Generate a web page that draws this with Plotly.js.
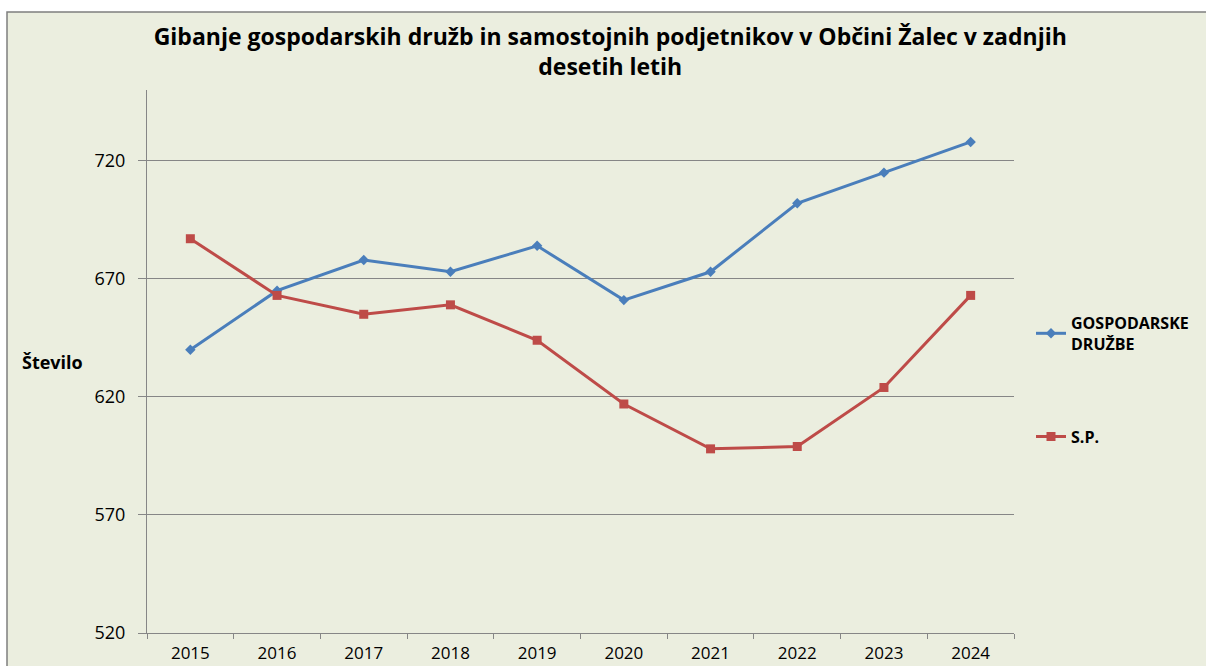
<!DOCTYPE html>
<html>
<head>
<meta charset="utf-8">
<script src="https://cdn.plot.ly/plotly-3.0.1.min.js"></script>
<style>html,body{margin:0;padding:0;background:#fff;}#chart{width:1206px;height:666px;}</style>
</head>
<body>
<div id="chart"></div>
<script>
const years = ['2015','2016','2017','2018','2019','2020','2021','2022','2023','2024'];
const druzbe = [640, 665, 678, 673, 684, 661, 673, 702, 715, 728];
const sp = [687, 663, 655, 659, 644, 617, 598, 599, 624, 663];
const yTicks = [520, 570, 620, 670, 720];

const fontFam = '"Open Sans", "Liberation Sans", sans-serif';

const traces = [
  {
    x: years, y: druzbe, type: 'scatter', mode: 'lines+markers',
    name: '<b>GOSPODARSKE<br>DRUŽBE</b>', legendgroup: 'a',
    line: {color: '#4A7EBB', width: 3},
    marker: {symbol: 'diamond', size: 8, color: '#4A7EBB'}
  },
  {
    x: years, y: sp, type: 'scatter', mode: 'lines+markers',
    name: '<b>S.P.</b>', legendgroup: 'b',
    line: {color: '#BE4B48', width: 3},
    marker: {symbol: 'square', size: 9, color: '#BE4B48'}
  }
];

const L = 147, R = 1014, T = 90, B = 633, W = 1206, H = 666;
const px = v => (v - L) / (R - L);
const py = v => (B - v) / (B - T);

const layout = {
  width: W, height: H,
  margin: {l: L, r: W - R, t: T, b: H - B, pad: 0},
  paper_bgcolor: '#ffffff',
  plot_bgcolor: 'rgba(0,0,0,0)',
  font: {family: fontFam, color: '#000', size: 14},
  title: {
    text: '<b>Gibanje gospodarskih družb in samostojnih podjetnikov v Občini Žalec v zadnjih<br>desetih letih</b>',
    font: {family: fontFam, size: 23, color: '#000'},
    x: 0.506, xanchor: 'center', y: 0.933, yanchor: 'top', yref: 'container'
  },
  shapes: [{
    type: 'rect', xref: 'paper', yref: 'paper', layer: 'below',
    x0: px(7), x1: px(1212), y0: py(672), y1: py(12),
    fillcolor: '#EBEEDF', line: {color: '#7F7F7F', width: 1.5}
  }],
  xaxis: {
    type: 'category', range: [-0.5, 9.5],
    showgrid: false, zeroline: false,
    showline: true, linecolor: '#868686', linewidth: 1,
    ticks: 'outside', ticklen: 5, tickcolor: '#868686', tickson: 'boundaries',
    ticklabelstandoff: 5,
    tickfont: {family: fontFam, size: 17, color: '#000'}
  },
  yaxis: {
    range: [520, 750], tickvals: yTicks, ticktext: yTicks.map(String),
    showgrid: true, gridcolor: '#868686', gridwidth: 1, zeroline: false,
    showline: true, linecolor: '#868686', linewidth: 1,
    ticks: 'outside', ticklen: 8, tickcolor: '#868686',
    ticklabelstandoff: 9,
    tickfont: {family: fontFam, size: 18, color: '#000'}
  },
  legend: {
    x: px(1031), xanchor: 'left', y: py(306), yanchor: 'top',
    bgcolor: 'rgba(0,0,0,0)', traceorder: 'grouped', tracegroupgap: 69,
    itemwidth: 30, font: {family: fontFam, size: 16, color: '#000'}
  },
  annotations: [{
    text: '<b>Število</b>', xref: 'paper', yref: 'paper',
    x: px(20), y: py(362), xanchor: 'left', yanchor: 'middle',
    showarrow: false, font: {family: fontFam, size: 18, color: '#000'}
  }],
  showlegend: true
};

Plotly.newPlot('chart', traces, layout, {displayModeBar: false, staticPlot: true});
</script>
</body>
</html>
